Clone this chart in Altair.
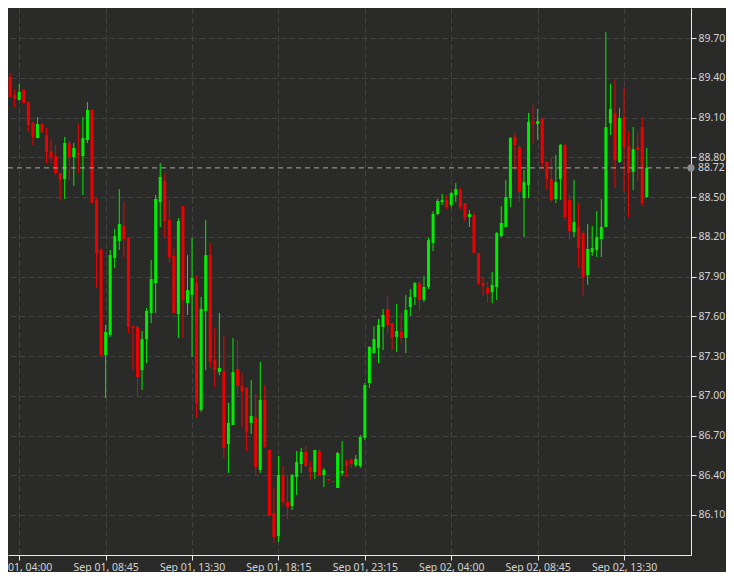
import altair as alt
import pandas as pd

# OHLC candles (15-minute bars)
opens = [89.375, 89.406, 89.270, 89.232, 89.308, 89.217, 89.058, 88.945, 89.051, 88.968,
         88.847, 88.809, 88.681, 88.636, 88.908, 88.802, 88.832, 88.809, 88.930, 89.157,
         88.477, 88.100, 87.308, 87.459, 88.040, 88.168, 88.281, 88.191, 87.526, 87.519,
         87.194, 87.428, 87.625, 87.851, 88.462, 88.621, 88.326, 88.055, 87.617, 88.432,
         87.700, 87.761, 87.851, 86.893, 87.640, 88.062, 87.270, 87.179, 87.187, 86.636,
         86.779, 87.202, 87.074, 87.059, 86.795, 86.840, 86.440, 86.968, 86.591, 86.115,
         85.942, 86.402, 86.198, 86.168, 86.387, 86.485, 86.576, 86.462, 86.425, 86.583,
         86.402, 86.372, 86.357, 86.304, 86.417, 86.508, 86.515, 86.477, 86.470, 86.681,
         87.096, 87.323, 87.361, 87.519, 87.655, 87.549, 87.444, 87.481, 87.436, 87.670,
         87.746, 87.851, 87.723, 87.821, 88.153, 88.372, 88.462, 88.477, 88.440, 88.515,
         88.553, 88.455, 88.349, 88.364, 88.077, 87.851, 87.813, 87.783, 87.821, 88.206,
         88.274, 88.492, 88.953, 88.877, 88.492, 88.591, 89.066, 89.051, 89.089, 88.764,
         88.636, 88.485, 88.636, 88.893, 88.477, 88.236, 88.274, 88.228, 87.911, 88.085,
         88.100, 88.183, 88.274, 89.058, 89.134, 88.764, 89.104, 88.885, 88.689, 88.877,
         89.028, 88.500]
highs = [89.436, 89.436, 89.315, 89.353, 89.315, 89.224, 89.074, 89.104, 89.058, 89.021,
         88.938, 88.892, 88.681, 88.953, 88.930, 88.908, 89.058, 89.104, 89.217, 89.164,
         88.500, 88.115, 87.534, 88.100, 88.259, 88.560, 88.462, 88.191, 87.526, 87.534,
         87.489, 87.662, 88.025, 88.515, 88.757, 88.681, 88.477, 88.115, 88.341, 88.432,
         88.062, 88.191, 87.911, 87.746, 88.326, 88.153, 87.511, 87.625, 87.459, 86.946,
         87.436, 87.421, 87.172, 87.066, 87.119, 87.014, 87.255, 87.081, 86.591, 86.304,
         86.545, 86.470, 86.402, 86.409, 86.583, 86.606, 86.621, 86.500, 86.591, 86.598,
         86.455, 86.372, 86.357, 86.576, 86.659, 86.523, 86.530, 86.553, 86.704, 87.096,
         87.376, 87.526, 87.579, 87.655, 87.753, 87.549, 87.693, 87.625, 87.761, 87.806,
         87.859, 87.866, 87.904, 88.191, 88.394, 88.485, 88.523, 88.515, 88.538, 88.606,
         88.568, 88.455, 88.402, 88.387, 88.077, 87.896, 87.859, 87.934, 88.236, 88.432,
         88.628, 88.953, 88.983, 88.893, 88.704, 89.134, 89.195, 89.164, 89.104, 88.772,
         88.795, 88.817, 88.900, 88.900, 88.515, 88.628, 88.455, 88.243, 88.296, 88.281,
         88.394, 88.485, 89.745, 89.353, 89.383, 89.172, 89.330, 88.998, 89.028, 88.983,
         89.104, 88.870]
lows = [89.360, 89.255, 89.179, 89.232, 89.209, 88.991, 88.892, 88.945, 88.983, 88.757,
        88.757, 88.666, 88.477, 88.485, 88.628, 88.583, 88.681, 88.515, 88.908, 88.455,
        87.813, 87.293, 86.983, 87.444, 87.964, 88.100, 88.047, 87.474, 87.194, 86.991,
        87.044, 87.247, 87.549, 87.625, 88.274, 88.198, 88.002, 87.625, 87.436, 87.436,
        87.610, 87.293, 86.832, 86.878, 87.194, 87.210, 87.066, 87.157, 86.530, 86.417,
        86.779, 87.006, 86.764, 86.583, 86.712, 86.402, 86.417, 86.606, 86.093, 85.889,
        85.896, 86.176, 86.070, 86.138, 86.251, 86.417, 86.462, 86.364, 86.372, 86.395,
        86.311, 86.357, 86.349, 86.304, 86.395, 86.387, 86.455, 86.462, 86.455, 86.666,
        87.059, 87.315, 87.247, 87.345, 87.474, 87.345, 87.330, 87.398, 87.323, 87.602,
        87.685, 87.640, 87.708, 87.806, 88.093, 88.364, 88.440, 88.409, 88.424, 88.462,
        88.409, 88.319, 88.274, 88.077, 87.836, 87.753, 87.700, 87.700, 87.723, 88.198,
        88.274, 88.425, 88.704, 88.462, 88.198, 88.492, 88.900, 88.930, 88.711, 88.553,
        88.462, 88.455, 88.477, 88.326, 88.175, 88.198, 87.964, 87.753, 87.836, 88.055,
        88.047, 88.047, 88.274, 88.968, 88.568, 88.757, 88.538, 88.349, 88.553, 88.621,
        88.432, 88.492]
closes = [89.406, 89.255, 89.240, 89.293, 89.209, 89.043, 88.953, 89.051, 88.991, 88.840,
          88.802, 88.681, 88.628, 88.908, 88.802, 88.870, 88.817, 88.945, 89.157, 88.455,
          88.077, 87.308, 87.481, 88.062, 88.206, 88.296, 88.183, 87.519, 87.511, 87.142,
          87.428, 87.640, 87.881, 88.485, 88.651, 88.319, 88.047, 87.625, 88.319, 87.723,
          87.798, 87.889, 86.946, 87.655, 88.062, 87.255, 87.194, 87.210, 86.606, 86.795,
          87.179, 87.074, 87.036, 86.727, 86.847, 86.462, 86.968, 86.613, 86.093, 85.934,
          86.402, 86.198, 86.161, 86.402, 86.500, 86.576, 86.470, 86.425, 86.591, 86.395,
          86.440, 86.364, 86.349, 86.568, 86.432, 86.470, 86.485, 86.523, 86.689, 87.081,
          87.368, 87.428, 87.534, 87.610, 87.534, 87.436, 87.489, 87.436, 87.647, 87.746,
          87.851, 87.723, 87.821, 88.175, 88.372, 88.470, 88.477, 88.424, 88.530, 88.560,
          88.424, 88.341, 88.372, 88.077, 87.851, 87.829, 87.776, 87.836, 88.228, 88.304,
          88.500, 88.945, 88.893, 88.538, 88.613, 89.066, 89.058, 89.074, 88.757, 88.636,
          88.477, 88.613, 88.893, 88.349, 88.243, 88.311, 88.115, 87.896, 88.108, 88.115,
          88.198, 88.274, 89.028, 89.164, 88.779, 89.096, 88.877, 88.681, 88.862, 88.855,
          88.455, 88.720]

tick_index = [3, 22, 41, 60, 79, 98, 117, 136]
tick_labels = ["Sep 01, 04:00", "Sep 01, 08:45", "Sep 01, 13:30", "Sep 01, 18:15",
               "Sep 01, 23:15", "Sep 02, 04:00", "Sep 02, 08:45", "Sep 02, 13:30"]
price_ticks = [86.1, 86.4, 86.7, 87.0, 87.3, 87.6, 87.9, 88.2, 88.5, 88.8, 89.1, 89.4, 89.7]

BG = "#2a2b28"
GREEN = "#00ee00"
RED = "#ee0000"
LABEL = "#d4d4d4"
FONT = "Noto Sans"
W, H = 683, 547

df = pd.DataFrame({"i": list(range(len(opens))), "open": opens, "high": highs,
                   "low": lows, "close": closes})
df["dir"] = ["up" if c >= o else "down" for o, c in zip(opens, closes)]

label_expr = ("[" + ",".join("'" + s + "'" for s in tick_labels) + "][indexof(["
              + ",".join(str(v) for v in tick_index) + "], datum.value)]")

x = alt.X("i:Q", scale=alt.Scale(domain=[1.625, 149.62], nice=False, zero=False),
          axis=alt.Axis(values=tick_index, labelExpr=label_expr, title=None, grid=True,
                        labelFlush=False, labelOverlap=False, tickSize=5, labelPadding=2))
yscale = alt.Scale(domain=[85.798, 89.927], nice=False, zero=False)
yaxis = alt.Axis(orient="right", values=price_ticks, format=".2f", title=None, grid=True,
                 labelPadding=2, tickSize=5, labelFlush=False, labelOverlap=False)
color = alt.Color("dir:N", scale=alt.Scale(domain=["up", "down"], range=[GREEN, RED]),
                  legend=None)

base = alt.Chart(df).encode(x=x, color=color)
wicks = base.mark_rule(strokeWidth=1, clip=True).encode(
    y=alt.Y("low:Q", scale=yscale, axis=yaxis), y2="high:Q")
bodies = base.mark_bar(width=3, clip=True).encode(
    y=alt.Y("open:Q", scale=yscale, axis=yaxis), y2="close:Q")

last = pd.DataFrame({"price": [closes[-1]], "label": [f"{closes[-1]:.2f}"]})
lastbase = alt.Chart(last).encode(y=alt.Y("price:Q", scale=yscale, axis=yaxis))
line = lastbase.mark_rule(color="#a8a8a8", strokeDash=[5, 4], strokeWidth=1).encode(
    x=alt.value(0), x2=alt.value(W))
dot = lastbase.mark_circle(size=50, color="#8e8e8e", opacity=1).encode(x=alt.value(W))
txt = lastbase.mark_text(align="left", baseline="middle", font=FONT, fontSize=10.5,
                         color=LABEL).encode(x=alt.value(W + 7), text="label:N")

chart = (
    alt.layer(wicks, bodies, line, dot, txt)
    .properties(width=W, height=H, background=BG,
                padding={"left": 0, "top": 0, "right": 35, "bottom": 17},
                autosize=alt.AutoSizeParams(type="none"))
    .configure_view(stroke=None, fill=BG)
    .configure_axis(domainColor="#e8e8e8", tickColor="#e8e8e8", labelColor=LABEL,
                    labelFont=FONT, labelFontSize=10.5, gridColor="#414141",
                    gridDash=[6, 3], domainWidth=1, tickWidth=1)
)

chart.save("out.html", embed_options={"renderer": "svg", "actions": False})
